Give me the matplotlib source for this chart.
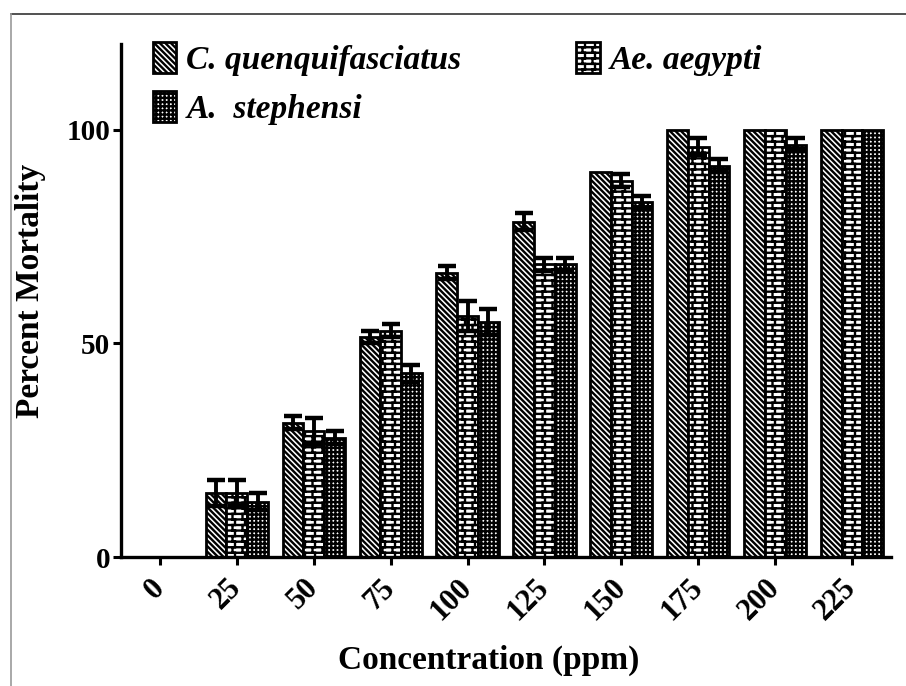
import warnings
import numpy as np
import matplotlib
matplotlib.use("Agg")
import matplotlib.pyplot as plt
import matplotlib.hatch as mhatch
from matplotlib.path import Path
from matplotlib.lines import Line2D

# ---------------- data ----------------
concentrations = ['0', '25', '50', '75', '100', '125', '150', '175', '200', '225']
series_names = ['C. quenquifasciatus', 'Ae. aegypti', 'A.  stephensi']
cq_vals = [0, 15, 31.5, 51.5, 66.5, 78.5, 90, 100, 100, 100]
cq_err = [0, 3, 1.5, 1.5, 1.5, 2, 0, 0, 0, 0]
ae_vals = [0, 15, 29.5, 53, 56.5, 68.5, 88, 96, 100, 100]
ae_err = [0, 3, 3, 1.5, 3.5, 1.5, 1.5, 2, 0, 0]
as_vals = [0, 13, 28, 43, 55, 68.5, 83, 91.5, 96.5, 100]
as_err = [0, 2, 1.5, 2, 3, 1.5, 1.5, 1.5, 1.5, 0]


# ---------------- custom brick hatch ----------------
class BrickHatch(mhatch.HatchPatternBase):
    def __init__(self, hatch, density):
        n = hatch.count('b')
        self.rows = int(n * density)
        self.cols = int(round(n * density * 0.55))
        if n:
            self.num_vertices = self.rows * 2 + self.rows * self.cols * 2 + self.cols * 2
        else:
            self.num_vertices = 0

    def set_vertices_and_codes(self, vertices, codes):
        r, c = self.rows, self.cols
        k = 0
        for i in range(r):
            y0 = (i + 0.5) / r
            y1 = (i + 1.5) / r
            vertices[k] = (0.0, y0)
            vertices[k + 1] = (1.0, y0)
            codes[k] = Path.MOVETO
            codes[k + 1] = Path.LINETO
            k += 2
            off = 0.5 / c if i % 2 else 0.25 / c
            for j in range(c):
                x = j / c + off
                top = min(y1, 1.0)
                vertices[k] = (x, y0)
                vertices[k + 1] = (x, top)
                codes[k] = Path.MOVETO
                codes[k + 1] = Path.LINETO
                k += 2
                if i == r - 1:
                    vertices[k] = (x, 0.0)
                    vertices[k + 1] = (x, 0.5 / r)
                    codes[k] = Path.MOVETO
                    codes[k + 1] = Path.LINETO
                    k += 2


mhatch._hatch_types.append(BrickHatch)
warnings.filterwarnings("ignore")

plt.rcParams['hatch.linewidth'] = 1.7
plt.rcParams['font.family'] = ['Liberation Serif', 'DejaVu Serif']

W, H = 906, 686
fig = plt.figure(figsize=(W / 100, H / 100), dpi=100)
ax = fig.add_axes([121.5 / W, 1 - 557.3 / H, 769 / W, 513.3 / H])

x = np.arange(len(concentrations))
bw = 0.27
hatches = ['\\\\\\\\\\\\', 'bbb', '++++']
vals = [cq_vals, ae_vals, as_vals]
errs = [cq_err, ae_err, as_err]

for k in range(3):
    pos = x + (k - 1) * bw
    ax.bar(pos, vals[k], width=bw, color='white', edgecolor='black',
           linewidth=2.0, hatch=hatches[k], label=series_names[k], zorder=2)
    e = np.array(errs[k], dtype=float)
    v = np.array(vals[k], dtype=float)
    m = e > 0
    ax.errorbar(pos[m], v[m], yerr=e[m], fmt='none', ecolor='black',
                elinewidth=2.8, capsize=6.5, capthick=3.2, zorder=3)

ax.set_xlim(-0.5, 9.5)
ax.set_ylim(0, 120)
ax.set_yticks([0, 50, 100])
ax.set_xticks(x)
ax.set_xticklabels(concentrations)

for s in ['top', 'right']:
    ax.spines[s].set_visible(False)
for s in ['left', 'bottom']:
    ax.spines[s].set_linewidth(2.4)
ax.tick_params(axis='both', direction='out', length=6, width=2.2)
ax.tick_params(axis='y', pad=2, labelsize=21)
ax.tick_params(axis='x', pad=13, labelsize=22)
for lab in ax.get_yticklabels():
    lab.set_fontweight('bold')
for lab in ax.get_xticklabels():
    lab.set_fontweight('bold')
    lab.set_rotation(45)
    lab.set_ha('right')
    lab.set_va('center')
    lab.set_rotation_mode('anchor')

fig.text(489 / W, 1 - 660 / H, 'Concentration (ppm)', ha='center', va='center',
         fontsize=24, fontweight='bold')
fig.text(30 / W, 1 - 291 / H, 'Percent Mortality', ha='center', va='center',
         rotation=90, fontsize=24, fontweight='bold')

# legend (order so 2-column layout gives C, A in col 1 and Ae in col 2)
handles, labels = ax.get_legend_handles_labels()
order = [0, 2, 1]
leg = ax.legend([handles[i] for i in order], [labels[i] for i in order],
                ncol=2, loc='upper left',
                bbox_to_anchor=(153 / W, 1 - 42 / H), bbox_transform=fig.transFigure,
                frameon=False, borderpad=0, borderaxespad=0,
                handlelength=0.7, handleheight=1.05, handletextpad=0.3,
                labelspacing=0.45, columnspacing=3.45,
                prop={'family': 'Liberation Serif', 'style': 'italic',
                      'weight': 'bold', 'size': 24})

# figure border
fig.add_artist(Line2D([11 / W, 1.0], [1 - 14 / H, 1 - 14 / H],
                      transform=fig.transFigure, color='#333333', linewidth=1.2))
fig.add_artist(Line2D([11 / W, 11 / W], [0.0, 1 - 14 / H],
                      transform=fig.transFigure, color='#999999', linewidth=1.2))

fig.savefig('out.png', dpi=100)
